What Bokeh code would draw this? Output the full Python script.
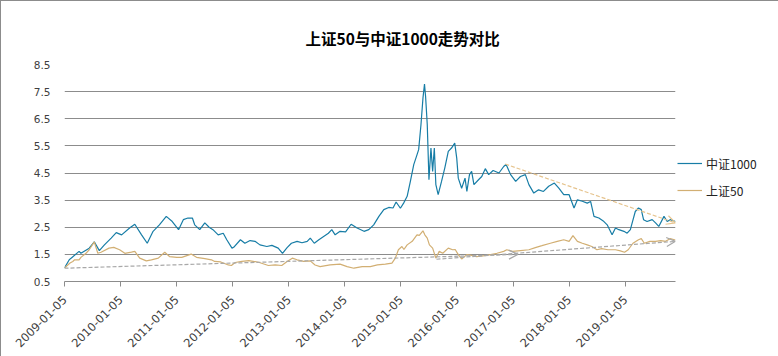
import pandas as pd
from bokeh.plotting import figure
from bokeh.models import (Range1d, FixedTicker, DatetimeTickFormatter, Legend, LegendItem,
                          Arrow, OpenHead, ColumnDataSource)
from bokeh.embed import file_html
from bokeh.resources import INLINE

title_text = "上证50与中证1000走势对比"
series_names = ["中证1000", "上证50"]
tick_dates = ["2009-01-05", "2010-01-05", "2011-01-05", "2012-01-05", "2013-01-05",
              "2014-01-05", "2015-01-05", "2016-01-05", "2017-01-05", "2018-01-05",
              "2019-01-05"]
y_ticks = [0.5, 1.5, 2.5, 3.5, 4.5, 5.5, 6.5, 7.5, 8.5]

csi1000_dates = [
    "2009-01-05", "2009-02-05", "2009-02-17", "2009-04-10", "2009-04-22", "2009-06-15",
    "2009-07-18", "2009-08-20", "2009-09-22", "2009-11-05", "2009-12-08", "2010-01-12",
    "2010-03-05", "2010-04-08", "2010-05-22", "2010-06-28", "2010-08-05", "2010-09-15",
    "2010-10-30", "2010-12-08", "2011-01-18", "2011-02-18", "2011-03-20", "2011-04-18",
    "2011-05-03", "2011-06-05", "2011-07-08", "2011-08-05", "2011-08-30", "2011-10-03",
    "2011-11-05", "2011-11-28", "2012-01-01", "2012-01-12", "2012-02-25", "2012-03-25",
    "2012-04-28", "2012-05-30", "2012-07-01", "2012-08-15", "2012-09-17", "2012-10-28",
    "2012-11-25", "2012-12-25", "2013-01-22", "2013-02-28", "2013-04-01", "2013-05-05",
    "2013-05-25", "2013-06-20", "2013-07-20", "2013-08-20", "2013-09-20", "2013-10-12",
    "2013-11-03", "2013-12-05", "2014-01-10", "2014-02-15", "2014-03-26", "2014-05-10",
    "2014-06-10", "2014-07-12", "2014-08-15", "2014-09-16", "2014-10-18", "2014-11-15",
    "2014-12-05", "2015-01-02", "2015-01-23", "2015-02-15", "2015-03-08", "2015-03-30",
    "2015-04-20", "2015-05-01", "2015-05-16", "2015-05-29", "2015-06-08", "2015-06-15",
    "2015-06-26", "2015-07-07", "2015-07-20", "2015-07-31", "2015-08-11", "2015-08-21",
    "2015-09-05", "2015-09-27", "2015-10-18", "2015-11-10", "2015-12-01", "2015-12-22",
    "2016-01-04", "2016-01-14", "2016-02-05", "2016-02-27", "2016-03-10", "2016-03-27",
    "2016-04-10", "2016-04-25", "2016-05-25", "2016-06-15", "2016-07-08", "2016-07-30",
    "2016-08-28", "2016-10-05", "2016-11-05", "2016-11-20", "2016-12-20", "2017-01-22",
    "2017-02-22", "2017-03-26", "2017-04-18", "2017-05-20", "2017-06-20", "2017-07-22",
    "2017-08-25", "2017-10-01", "2017-10-30", "2017-12-01", "2018-01-05", "2018-02-06",
    "2018-02-28", "2018-04-01", "2018-05-03", "2018-05-25", "2018-06-16", "2018-07-18",
    "2018-08-20", "2018-09-10", "2018-10-12", "2018-11-03", "2018-11-25", "2018-12-28",
    "2019-01-18", "2019-02-08", "2019-02-22", "2019-03-12", "2019-04-02", "2019-04-20",
    "2019-05-05", "2019-05-28", "2019-06-30", "2019-07-22", "2019-08-12", "2019-09-15",
    "2019-10-06", "2019-10-25", "2019-11-29"]
csi1000_values = [
    1.00, 1.30, 1.36, 1.61, 1.54, 1.73,
    1.96, 1.64, 1.85, 2.10, 2.30, 2.22,
    2.47, 2.61, 2.22, 1.91, 2.35, 2.59,
    2.90, 2.71, 2.41, 2.78, 2.84, 2.84,
    2.59, 2.41, 2.66, 2.50, 2.41, 2.22,
    2.28, 2.04, 1.73, 1.76, 2.04, 1.91,
    2.01, 1.98, 1.85, 1.79, 1.83, 1.73,
    1.54, 1.75, 1.91, 1.98, 1.93, 1.98,
    2.10, 1.91, 2.04, 2.16, 2.28, 2.41,
    2.22, 2.35, 2.33, 2.61, 2.47, 2.35,
    2.41, 2.59, 2.90, 3.15, 3.23, 3.21,
    3.43, 3.20, 3.39, 3.64, 4.19, 4.81,
    5.17, 5.36, 6.28, 7.26, 7.78, 7.33,
    6.28, 4.25, 5.42, 4.56, 5.42, 4.07,
    3.70, 4.19, 4.68, 5.30, 5.42, 5.60,
    5.05, 4.31, 3.94, 4.31, 3.82, 4.44,
    4.56, 4.07, 4.25, 4.37, 4.66, 4.44,
    4.59, 4.50, 4.74, 4.82, 4.44, 4.19,
    4.37, 4.44, 4.07, 3.76, 3.88, 3.82,
    4.01, 4.13, 3.94, 3.70, 3.70, 3.21,
    3.51, 3.46, 3.39, 3.45, 2.90, 2.84,
    2.71, 2.59, 2.22, 2.47, 2.41, 2.35,
    2.28, 2.41, 2.71, 3.08, 3.21, 3.15,
    2.78, 2.71, 2.78, 2.66, 2.53, 2.90,
    2.71, 2.78, 2.71]

sz50_dates = [
    "2009-01-05", "2009-02-10", "2009-02-28", "2009-03-12", "2009-04-10", "2009-04-22",
    "2009-05-25", "2009-06-15", "2009-07-18", "2009-08-10", "2009-08-31", "2009-10-22",
    "2009-11-22", "2009-12-30", "2010-02-02", "2010-03-17", "2010-04-08", "2010-05-10",
    "2010-06-22", "2010-07-25", "2010-09-08", "2010-10-20", "2010-11-20", "2011-01-07",
    "2011-02-08", "2011-04-10", "2011-05-15", "2011-07-08", "2011-08-20", "2011-09-10",
    "2011-10-20", "2011-12-08", "2011-12-28", "2012-01-22", "2012-03-05", "2012-04-20",
    "2012-06-22", "2012-08-25", "2012-10-08", "2012-11-20", "2012-12-25", "2013-01-28",
    "2013-02-28", "2013-04-12", "2013-05-25", "2013-06-25", "2013-07-28", "2013-10-01",
    "2013-12-05", "2014-01-20", "2014-03-05", "2014-04-28", "2014-06-20", "2014-08-05",
    "2014-09-26", "2014-11-08", "2014-11-30", "2014-12-20", "2015-01-12", "2015-01-25",
    "2015-02-15", "2015-03-20", "2015-04-20", "2015-05-05", "2015-05-29", "2015-06-10",
    "2015-06-26", "2015-07-10", "2015-07-31", "2015-08-21", "2015-09-12", "2015-10-05",
    "2015-11-10", "2015-12-08", "2015-12-25", "2016-01-14", "2016-02-05", "2016-03-10",
    "2016-04-10", "2016-05-12", "2016-07-18", "2016-09-22", "2016-11-05", "2016-11-25",
    "2017-01-02", "2017-02-22", "2017-04-18", "2017-05-30", "2017-07-12", "2017-09-05",
    "2017-10-20", "2017-12-01", "2018-01-05", "2018-01-30", "2018-02-28", "2018-04-01",
    "2018-05-03", "2018-06-02", "2018-07-05", "2018-08-05", "2018-09-15", "2018-11-03",
    "2018-12-05", "2019-01-01", "2019-01-25", "2019-02-25", "2019-04-02", "2019-04-20",
    "2019-05-10", "2019-06-15", "2019-07-22", "2019-08-25", "2019-09-25", "2019-10-25",
    "2019-11-29"]
sz50_values = [
    1.00, 1.18, 1.24, 1.30, 1.30, 1.39,
    1.54, 1.67, 1.96, 1.54, 1.58, 1.73,
    1.76, 1.67, 1.54, 1.58, 1.61, 1.36,
    1.26, 1.30, 1.36, 1.58, 1.42, 1.39,
    1.39, 1.51, 1.39, 1.34, 1.30, 1.24,
    1.22, 1.11, 1.09, 1.20, 1.24, 1.27,
    1.21, 1.09, 1.11, 1.09, 1.24, 1.36,
    1.30, 1.24, 1.26, 1.11, 1.05, 1.11,
    1.14, 1.05, 0.99, 1.05, 1.05, 1.11,
    1.14, 1.18, 1.36, 1.67, 1.79, 1.68,
    1.85, 1.98, 2.22, 2.20, 2.37, 2.22,
    2.10, 1.85, 1.73, 1.36, 1.61, 1.54,
    1.73, 1.67, 1.68, 1.49, 1.33, 1.49,
    1.46, 1.42, 1.46, 1.54, 1.61, 1.67,
    1.61, 1.64, 1.67, 1.75, 1.82, 1.91,
    1.98, 2.04, 1.98, 2.19, 1.98, 1.91,
    1.85, 1.79, 1.67, 1.71, 1.67, 1.67,
    1.63, 1.58, 1.67, 1.91, 2.04, 2.08,
    1.91, 1.98, 1.98, 2.01, 1.98, 2.08,
    2.03]

trend_down_dates = ["2016-11-15", "2019-11-29"]
trend_down_values = [4.83, 2.66]
trend_up1_dates = ["2009-01-05", "2017-02-05"]
trend_up1_values = [0.99, 1.50]
trend_up2_dates = ["2015-08-25", "2019-11-29"]
trend_up2_values = [1.32, 1.98]

c_csi = "#177DA6"
c_sz = "#D2AF73"
c_trend_down = "#E6C48E"
c_trend_up = "#A8A8A8"
grid_c = "#8C8C8C"
label_c = "#404040"

p = figure(frame_width=611, frame_height=217, x_axis_type="datetime", output_backend="svg",
           toolbar_location=None,
           x_range=Range1d(pd.Timestamp("2009-01-05"), pd.Timestamp("2019-11-29")),
           y_range=Range1d(0.5, 8.5),
           min_border_left=63, min_border_right=104, min_border_top=63, min_border_bottom=76)
p.outline_line_color = None
p.background_fill_color = "white"
p.border_fill_color = "white"

r1 = p.line(pd.to_datetime(csi1000_dates), csi1000_values, line_color=c_csi, line_width=1.2)
r2 = p.line(pd.to_datetime(sz50_dates), sz50_values, line_color=c_sz, line_width=1.2)

for d, v, col in [(trend_down_dates, trend_down_values, c_trend_down),
                  (trend_up1_dates, trend_up1_values, c_trend_up),
                  (trend_up2_dates, trend_up2_values, c_trend_up)]:
    dd = pd.to_datetime(d)
    src = ColumnDataSource(dict(xs=[dd[0]], ys=[v[0]], xe=[dd[1]], ye=[v[1]]))
    p.add_layout(Arrow(x_start="xs", y_start="ys", x_end="xe", y_end="ye", source=src,
                       line_color=col, line_width=1.2, line_dash="4 2",
                       end=OpenHead(size=9, line_color=col, line_width=1.2)))

# axes
tick_ms = [float(pd.Timestamp(t).value // 10**6) for t in tick_dates]
p.xaxis.ticker = FixedTicker(ticks=tick_ms)
fmt = "%Y-%m-%d"
p.xaxis.formatter = DatetimeTickFormatter(milliseconds=fmt, seconds=fmt, minsec=fmt, minutes=fmt,
                                          hourmin=fmt, hours=fmt, days=fmt, months=fmt, years=fmt)
p.xaxis.major_label_orientation = 0.785
p.xaxis.axis_line_color = grid_c
p.xaxis.major_tick_line_color = grid_c
p.xaxis.major_tick_out = 5
p.xaxis.major_tick_in = 0
p.xaxis.minor_tick_line_color = None
p.xaxis.major_label_text_font = "DejaVu Sans"
p.xaxis.major_label_text_font_size = "11.5px"
p.xaxis.major_label_text_color = label_c
p.xaxis.major_label_standoff = 11

p.yaxis.ticker = FixedTicker(ticks=y_ticks)
p.yaxis.axis_line_color = None
p.yaxis.major_tick_line_color = None
p.yaxis.minor_tick_line_color = None
p.yaxis.major_tick_out = 0
p.yaxis.major_tick_in = 0
p.yaxis.major_label_standoff = 14
p.yaxis.major_label_text_font = "DejaVu Sans"
p.yaxis.major_label_text_font_size = "10.5px"
p.yaxis.major_label_text_color = label_c

p.xgrid.grid_line_color = None
p.ygrid.grid_line_color = grid_c
p.ygrid.grid_line_width = 1

# title
p.title.text = title_text
p.title.align = "left"
p.title.offset = 241
p.title.standoff = 31
p.title.text_font = "Noto Sans CJK SC"
p.title.text_font_size = "15.5px"
p.title.text_font_style = "bold"
p.title.text_color = "#000000"

legend = Legend(items=[LegendItem(label=series_names[0], renderers=[r1]),
                       LegendItem(label=series_names[1], renderers=[r2])],
                location=(2, 81), orientation="vertical")
legend.margin = 0
legend.padding = 5
legend.spacing = 7
legend.glyph_width = 25
legend.label_standoff = 4
legend.label_text_font = "Noto Sans CJK SC"
legend.label_text_font_size = "12px"
legend.label_text_color = "#222222"
legend.border_line_color = None
legend.background_fill_alpha = 0
p.add_layout(legend, "right")

p.styles = {"border": "1px solid #8C8C8C", "box-sizing": "border-box"}

open("out.html", "w").write(file_html(p, INLINE))
